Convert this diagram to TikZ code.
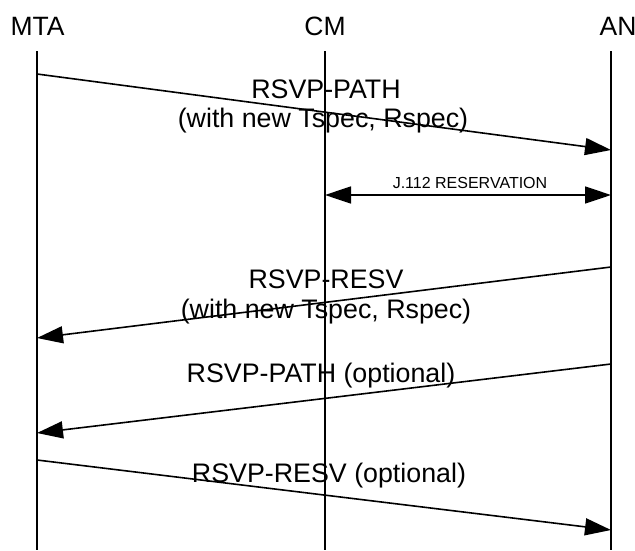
\documentclass[tikz,border=0pt]{standalone}
\usepackage{fontspec}
\setmainfont{Liberation Sans}
\usetikzlibrary{arrows.meta}
\begin{document}
\begin{tikzpicture}[x=1pt,y=-1pt,
  lifeline/.style={line width=1.6pt},
  msg/.style={line width=1.6pt,-{Triangle[length=26pt,width=17pt]}},
  bimsg/.style={line width=1.6pt,{Triangle[length=26pt,width=17pt]}-{Triangle[length=26pt,width=17pt]}},
  entity/.style={anchor=base,inner sep=0pt,font=\fontsize{26.5}{31}\selectfont},
  lbl/.style={anchor=base,inner sep=0pt,font=\fontsize{26.8}{31}\selectfont},
  small/.style={anchor=base,inner sep=0pt,font=\fontsize{16}{19}\selectfont}]
\useasboundingbox (0,0) rectangle (635,550);

% entity names
\node[entity] (mta) at (37.5,35) {MTA};
\node[entity] (cm) at (325,35) {CM};
\node[entity] (an) at (618,35) {AN};

% lifelines
\coordinate (mtaTop) at (37,51);   \coordinate (mtaBot) at (37,550);
\coordinate (cmTop) at (325,51);   \coordinate (cmBot) at (325,550);
\coordinate (anTop) at (611,51);   \coordinate (anBot) at (611,550);
\draw[lifeline] (mtaTop) -- (mtaBot);
\draw[lifeline] (cmTop) -- (cmBot);
\draw[lifeline] (anTop) -- (anBot);

% message end points
\coordinate (m1a) at (37,74);   \coordinate (m1b) at (611,150);
\coordinate (m2a) at (325,195); \coordinate (m2b) at (611,195);
\coordinate (m3a) at (611,267); \coordinate (m3b) at (37,338);
\coordinate (m4a) at (611,364); \coordinate (m4b) at (37,433);
\coordinate (m5a) at (37,460);  \coordinate (m5b) at (611,530);

% messages
\draw[msg] (m1a) -- (m1b);
\draw[bimsg] (m2a) -- (m2b);
\draw[msg] (m3a) -- (m3b);
\draw[msg] (m4a) -- (m4b);
\draw[msg] (m5a) -- (m5b);

% message labels
\node[lbl] (l1a) at (326,98) {RSVP-PATH};
\node[lbl] (l1b) at (323,127) {(with new Tspec, Rspec)};
\node[small] (l2) at (470,188) {J.112 RESERVATION};
\node[lbl] (l3a) at (326,288) {RSVP-RESV};
\node[lbl] (l3b) at (326,318) {(with new Tspec, Rspec)};
\node[lbl] (l4) at (321,382) {RSVP-PATH (optional)};
\node[lbl] (l5) at (329,482) {RSVP-RESV (optional)};
\end{tikzpicture}
\end{document}
